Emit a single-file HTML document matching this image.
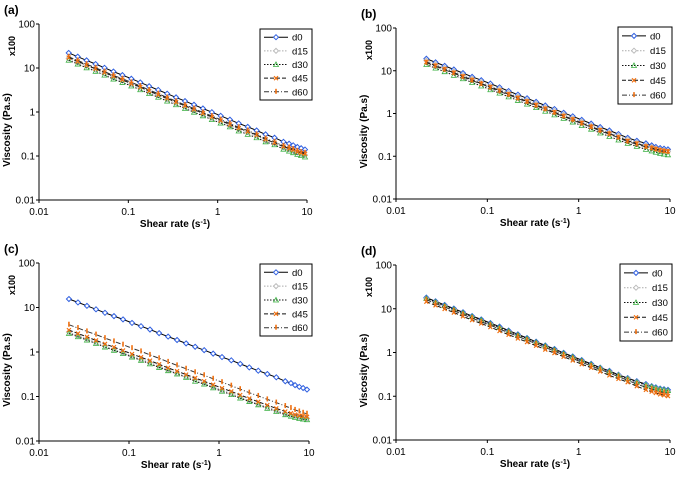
<!DOCTYPE html>
<html><head><meta charset="utf-8"><style>
body{margin:0;background:#fff;width:677px;height:472px;overflow:hidden;font-family:"Liberation Sans",Arial,sans-serif}
</style></head><body>
<svg id="chart" width="677" height="472" xmlns="http://www.w3.org/2000/svg" font-family="Liberation Sans, Arial, sans-serif"></svg>
<script>
const shearRates=[0.0215,0.0271,0.0341,0.043,0.0541,0.0681,0.0858,0.108,0.136,0.171,0.216,0.272,0.342,0.431,0.543,0.684,0.861,1.08,1.37,1.72,2.17,2.73,3.44,4.33,5.45,6.3,7,7.8,8.6,9.5];
const xTicks=[0.01,0.1,1,10];
const xTickLabels=["0.01","0.1","1","10"];
const yTicks=[0.01,0.1,1,10,100];
const yTickLabels=["0.01","0.1","1","10","100"];
const seriesNames=["d0","d15","d30","d45","d60"];
const panelLabels=["(a)","(b)","(c)","(d)"];
// panel a
const a_d0=[22,18.1,14.9,12.3,10.1,8.3,6.9,5.7,4.7,3.85,3.17,2.61,2.15,1.77,1.46,1.2,0.99,0.82,0.67,0.55,0.46,0.38,0.31,0.26,0.21,0.19,0.175,0.16,0.15,0.14];
const a_d15=[16.5,13.6,11.2,9.2,7.6,6.2,5.2,4.3,3.5,2.9,2.38,1.96,1.61,1.33,1.1,0.9,0.74,0.62,0.5,0.41,0.35,0.29,0.23,0.2,0.16,0.143,0.131,0.12,0.113,0.105];
const a_d30=[15,12.3,10.1,8.4,6.9,5.6,4.7,3.9,3.2,2.62,2.16,1.77,1.46,1.2,0.99,0.82,0.67,0.56,0.46,0.37,0.31,0.26,0.21,0.18,0.143,0.129,0.119,0.109,0.102,0.095];
const a_d45=[17.2,14.1,11.6,9.6,7.9,6.5,5.4,4.4,3.7,3,2.47,2.04,1.68,1.38,1.14,0.94,0.77,0.64,0.52,0.43,0.36,0.3,0.24,0.2,0.164,0.148,0.137,0.125,0.117,0.112];
const a_d60=[18,14.8,12.2,10.1,8.3,6.8,5.7,4.7,3.9,3.16,2.6,2.14,1.76,1.45,1.2,0.98,0.81,0.67,0.55,0.45,0.38,0.31,0.25,0.21,0.17,0.156,0.144,0.131,0.123,0.118];
// panel b
const b_d0=[19.1,15.7,13,10.7,8.8,7.2,6,5,4.1,3.35,2.76,2.27,1.87,1.54,1.27,1.04,0.86,0.71,0.58,0.48,0.4,0.33,0.27,0.23,0.2,0.18,0.165,0.155,0.15,0.145];
const b_d15=[17.2,14.1,11.6,9.6,7.9,6.5,5.4,4.4,3.7,3,2.47,2.04,1.68,1.38,1.14,0.94,0.77,0.64,0.52,0.43,0.36,0.3,0.25,0.21,0.18,0.165,0.152,0.142,0.136,0.13];
const b_d30=[14,11.5,9.5,7.8,6.5,5.3,4.4,3.6,3,2.45,2.02,1.66,1.37,1.13,0.93,0.77,0.63,0.52,0.43,0.35,0.29,0.24,0.2,0.17,0.145,0.133,0.124,0.117,0.112,0.108];
const b_d45=[16,13.2,10.9,9,7.4,6.1,5,4.2,3.45,2.83,2.33,1.92,1.58,1.3,1.07,0.88,0.73,0.6,0.49,0.41,0.34,0.28,0.23,0.2,0.17,0.157,0.147,0.139,0.133,0.13];
const b_d60=[15.5,12.7,10.5,8.7,7.1,5.9,4.9,4,3.3,2.72,2.24,1.85,1.52,1.25,1.03,0.85,0.7,0.58,0.48,0.39,0.33,0.27,0.22,0.19,0.165,0.153,0.143,0.135,0.13,0.126];
// panel c
const c_d0=[15.5,13,10.9,9.1,7.6,6.4,5.4,4.5,3.8,3.2,2.65,2.22,1.86,1.56,1.31,1.1,0.92,0.77,0.65,0.54,0.45,0.38,0.32,0.27,0.22,0.2,0.18,0.165,0.155,0.143];
const c_d15=[2.8,2.34,1.96,1.64,1.37,1.15,0.97,0.81,0.68,0.58,0.48,0.4,0.33,0.28,0.24,0.2,0.166,0.139,0.117,0.097,0.081,0.068,0.058,0.049,0.041,0.038,0.036,0.034,0.033,0.032];
const c_d30=[2.6,2.2,1.85,1.55,1.29,1.09,0.92,0.77,0.65,0.54,0.45,0.38,0.32,0.27,0.22,0.19,0.156,0.131,0.11,0.092,0.077,0.065,0.054,0.046,0.039,0.036,0.034,0.032,0.031,0.03];
const c_d45=[3.1,2.6,2.18,1.82,1.52,1.28,1.08,0.9,0.76,0.64,0.53,0.44,0.37,0.31,0.26,0.22,0.184,0.154,0.13,0.108,0.09,0.076,0.064,0.054,0.046,0.042,0.039,0.037,0.036,0.035];
const c_d60=[4.1,3.45,2.9,2.46,2.05,1.73,1.46,1.22,1.03,0.86,0.72,0.6,0.5,0.42,0.35,0.3,0.25,0.21,0.175,0.146,0.122,0.103,0.086,0.073,0.061,0.055,0.05,0.046,0.043,0.041];
// panel d
const d_d0=[18,14.8,12.2,10.1,8.3,6.8,5.7,4.7,3.9,3.16,2.6,2.14,1.76,1.45,1.2,0.98,0.81,0.67,0.55,0.45,0.38,0.31,0.26,0.22,0.19,0.17,0.16,0.15,0.145,0.14];
const d_d15=[17,14,11.5,9.5,7.8,6.4,5.3,4.4,3.6,2.97,2.44,2.01,1.66,1.36,1.12,0.92,0.76,0.63,0.52,0.43,0.36,0.3,0.25,0.21,0.18,0.163,0.152,0.142,0.136,0.13];
const d_d30=[17.2,14.2,11.7,9.7,8,6.6,5.5,4.5,3.75,3.07,2.52,2.08,1.71,1.41,1.16,0.95,0.79,0.65,0.53,0.44,0.37,0.3,0.25,0.21,0.18,0.165,0.155,0.145,0.14,0.135];
const d_d45=[14.5,12,9.9,8.2,6.7,5.5,4.6,3.8,3.1,2.55,2.1,1.73,1.43,1.17,0.97,0.8,0.66,0.54,0.45,0.37,0.3,0.25,0.21,0.17,0.14,0.128,0.119,0.111,0.106,0.101];
const d_d60=[16,13.2,10.9,9,7.4,6.1,5,4.2,3.45,2.83,2.33,1.92,1.58,1.3,1.07,0.88,0.73,0.6,0.49,0.41,0.34,0.28,0.23,0.19,0.16,0.146,0.136,0.127,0.121,0.116];

const panels=[
 {lab:panelLabels[0],ox:0,oy:0,x0:39,x1:307,yT:24,yB:200,lg:[260,29,52,71],data:[a_d0,a_d15,a_d30,a_d45,a_d60]},
 {lab:panelLabels[1],ox:0,oy:0,x0:396,x1:670,yT:28,yB:199,lg:[618,27,54,77],data:[b_d0,b_d15,b_d30,b_d45,b_d60]},
 {lab:panelLabels[2],ox:0,oy:0,x0:39,x1:309,yT:263,yB:441,lg:[260,264,52,72],data:[c_d0,c_d15,c_d30,c_d45,c_d60]},
 {lab:panelLabels[3],ox:0,oy:0,x0:396,x1:670,yT:265,yB:440,lg:[620,264,52,77],data:[d_d0,d_d15,d_d30,d_d45,d_d60]}
];
const styles=[
 {stroke:"#000",dash:"",mk:"diamond",mc:"#2f5fe0",w:1},
 {stroke:"#aaa",dash:"1.5,1.5",mk:"diamond",mc:"#bbb",w:1},
 {stroke:"#111",dash:"1.5,1.5",mk:"tri",mc:"#3cb043",w:1},
 {stroke:"#111",dash:"4,2",mk:"x",mc:"#f07010",w:1},
 {stroke:"#333",dash:"5,2,1,2",mk:"bar",mc:"#f07010",w:1}
];
const NS="http://www.w3.org/2000/svg";
const svg=document.getElementById("chart");
function el(tag,attrs,parent,text){const e=document.createElementNS(NS,tag);for(const k in attrs)e.setAttribute(k,attrs[k]);if(text!==undefined)e.textContent=text;(parent||svg).appendChild(e);return e;}
function marker(g,kind,x,y,c){
 let m;
 if(kind==="diamond")m=el("path",{d:`M${x},${y-2.5}L${x+2.5},${y}L${x},${y+2.5}L${x-2.5},${y}Z`,fill:"#fff",stroke:c,"stroke-width":1},g);
 else if(kind==="tri")m=el("path",{d:`M${x},${y-2.5}L${x+2.5},${y+2}L${x-2.5},${y+2}Z`,fill:"none",stroke:c,"stroke-width":0.8},g);
 else if(kind==="x")m=el("path",{d:`M${x-2},${y-2}L${x+2},${y+2}M${x+2},${y-2}L${x-2},${y+2}`,stroke:c,"stroke-width":1.2},g);
 else m=el("path",{d:`M${x},${y-3}L${x},${y+2}`,stroke:c,"stroke-width":1.6},g);
 return m;
}
panels.forEach((p,pi)=>{
 const g=el("g",{});
 
 
 const xs=v=>p.x0+(Math.log10(v)+2)/3*(p.x1-p.x0);
 const ys=v=>p.yB-(Math.log10(v)+2)/4*(p.yB-p.yT);
 // axes
 const ax=el("path",{d:`M${p.x0},${p.yT}V${p.yB}H${p.x1}`,stroke:"#000",fill:"none","stroke-width":1},g);
 
 
 yTicks.forEach((t,i)=>{
  el("line",{x1:p.x0-3,x2:p.x0,y1:ys(t),y2:ys(t),stroke:"#000"},g);
  const tl=el("text",{x:p.x0-4,y:ys(t)+3.5,"font-size":10,"text-anchor":"end"},g,yTickLabels[i]);
  
  
 });
 xTicks.forEach((t,i)=>{
  el("line",{x1:xs(t),x2:xs(t),y1:p.yB,y2:p.yB+3,stroke:"#000"},g);
  const tl=el("text",{x:xs(t),y:p.yB+15,"font-size":10,"text-anchor":"middle"},g,xTickLabels[i]);
  
  
 });
 const pl=el("text",{x:p.x0-35,y:p.yT-10,"font-size":12,"font-weight":"bold"},g,p.lab);
 
 
 const xt=el("text",{x:(p.x0+p.x1)/2+2,y:p.yB+27,"font-size":10,"font-weight":"bold","text-anchor":"middle"},g);
 
 
 xt.appendChild(document.createTextNode("Shear rate (s"));
 const sup=el("tspan",{"baseline-shift":"super","font-size":7},xt,"-1");
 el("tspan",{},xt,")");
 const yc=(p.yT+p.yB)/2+18;
 const yt=el("text",{x:0,y:0,"font-size":10,"font-weight":"bold","text-anchor":"middle",transform:`translate(${p.x0-29},${yc}) rotate(-90)`},g,"Viscosity (Pa.s)");
 
 
 const mul=el("text",{x:0,y:0,"font-size":9,"font-weight":"bold","text-anchor":"middle",transform:`translate(${p.x0-24},${p.yT+22}) rotate(-90)`},g,"x100");
 
 
 // series
 p.data.forEach((arr,si)=>{
  const st=styles[si];
  const sg=el("g",{},g);
  
  
  const d=arr.map((v,i)=>(i?"L":"M")+xs(shearRates[i]).toFixed(1)+","+ys(v).toFixed(1)).join("");
  const ln=el("path",{d:d,stroke:st.stroke,"stroke-dasharray":st.dash,fill:"none","stroke-width":st.w},sg);
  
  
  arr.forEach((v,i)=>{
   const m=marker(sg,st.mk,xs(shearRates[i]),ys(v),st.mc);
   
   
  });
 });
 // legend
 const [lx,ly,lw,lh]=p.lg;
 const lgG=el("g",{},g);
 
 
 el("rect",{x:lx,y:ly,width:lw,height:lh,fill:"#fff",stroke:"#000","stroke-width":1},lgG);
 seriesNames.forEach((n,si)=>{
  const st=styles[si];
  const yy=ly+lh*(si+0.6)/5.2;
  const e=el("g",{},lgG);
  
  
  el("line",{x1:lx+4,x2:lx+28,y1:yy,y2:yy,stroke:st.stroke,"stroke-dasharray":st.dash},e);
  marker(e,st.mk,lx+16,yy,st.mc);
  el("text",{x:lx+32,y:yy+3.5,"font-size":9.5},e,n);
 });
});
</script>
</body></html>
